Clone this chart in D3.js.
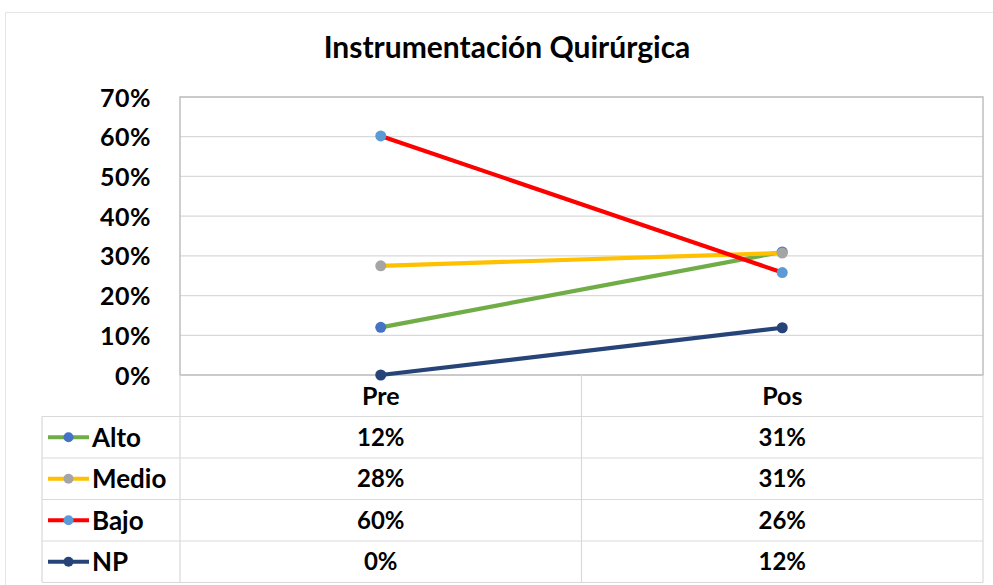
<!DOCTYPE html>
<html>
<head>
<meta charset="utf-8">
<script src="https://cdnjs.cloudflare.com/ajax/libs/d3/7.8.5/d3.min.js"></script>
<style>
  body { margin: 0; background: #fff; }
  svg text { font-family: Lato, "Open Sans", sans-serif; font-weight: bold; fill: #000; }
</style>
</head>
<body>
<svg id="chart" width="993" height="585"></svg>
<script>
// data
var categories = ["Pre", "Pos"];
var seriesNames = ["Alto", "Medio", "Bajo", "NP"];
var alto = [0.12, 0.31];
var medio = [0.275, 0.307];
var bajo = [0.602, 0.258];
var np = [0.0, 0.119];
var altoLabels = ["12%", "31%"];
var medioLabels = ["28%", "31%"];
var bajoLabels = ["60%", "26%"];
var npLabels = ["0%", "12%"];
var yTicks = [0, 0.1, 0.2, 0.3, 0.4, 0.5, 0.6, 0.7];

var lineColors = ["#70ad47", "#ffc000", "#ff0000", "#264478"];
var markerColors = ["#4472c4", "#a5a5a5", "#5b9bd5", "#264478"];

var series = [alto, medio, bajo, np];
var labels = [altoLabels, medioLabels, bajoLabels, npLabels];

// layout
const PLOT_L = 180, PLOT_R = 983, PLOT_T = 97, PLOT_B = 375;
const TABLE_L = 42, ROW_H = 41.5;

var svg = d3.select("#chart");

// outer frame
svg.append("rect")
  .attr("x", 5.5).attr("y", 12.5)
  .attr("width", 1000).attr("height", 600)
  .attr("fill", "none").attr("stroke", "#e6e6e6");

var x = d3.scaleBand().domain(categories).range([PLOT_L, PLOT_R]);
var y = d3.scaleLinear().domain([0, 0.7]).range([PLOT_B, PLOT_T]);

// title
svg.append("text")
  .attr("x", 507).attr("y", 58)
  .attr("text-anchor", "middle")
  .style("font-size", "30px")
  .text("Instrumentación Quirúrgica");

// grid
svg.append("g")
  .selectAll("line")
  .data(yTicks)
  .enter()
  .append("line")
  .attr("x1", PLOT_L).attr("x2", PLOT_R)
  .attr("y1", function(d){ return y(d); })
  .attr("y2", function(d){ return y(d); })
  .attr("stroke", "#d9d9d9").attr("stroke-width", 1.2);

// plot border
svg.append("rect")
  .attr("x", PLOT_L).attr("y", PLOT_T)
  .attr("width", PLOT_R - PLOT_L).attr("height", PLOT_B - PLOT_T)
  .attr("fill", "none").attr("stroke", "#bfbfbf").attr("stroke-width", 1.5);

// y axis
var yAxis = svg.append("g")
  .attr("transform", "translate(" + (PLOT_L - 26) + ",0)")
  .call(d3.axisLeft(y).tickValues(yTicks).tickFormat(d3.format(".0%")).tickSize(0));
yAxis.select(".domain").remove();
yAxis.selectAll("text")
  .attr("dy", "0.36em")
  .style("font-size", "25px")
  .style("font-family", "Lato, sans-serif")
  .style("letter-spacing", "0.5px");

// lines
var line = d3.line()
  .x(function(d, i){ return x(categories[i]) + x.bandwidth() / 2; })
  .y(function(d){ return y(d); });

series.forEach(function(s, k){
  svg.append("path")
    .datum(s)
    .attr("d", line)
    .attr("fill", "none")
    .attr("stroke", lineColors[k])
    .attr("stroke-width", 4.2)
    .attr("stroke-linecap", "round");
});
series.forEach(function(s, k){
  svg.append("g")
    .selectAll("circle")
    .data(s)
    .enter()
    .append("circle")
    .attr("cx", function(d, i){ return x(categories[i]) + x.bandwidth() / 2; })
    .attr("cy", function(d){ return y(d); })
    .attr("r", 5.5)
    .attr("fill", markerColors[k]);
});

// data table
var tbl = svg.append("g");
var gridC = "#d9d9d9";
// vertical lines
[PLOT_L, x("Pos"), PLOT_R].forEach(function(vx){
  tbl.append("line")
    .attr("x1", vx).attr("x2", vx)
    .attr("y1", PLOT_B).attr("y2", PLOT_B + ROW_H * 5)
    .attr("stroke", gridC).attr("stroke-width", 1.2);
});
tbl.append("line")
  .attr("x1", TABLE_L).attr("x2", TABLE_L)
  .attr("y1", PLOT_B + ROW_H).attr("y2", PLOT_B + ROW_H * 5)
  .attr("stroke", gridC).attr("stroke-width", 1.2);
// horizontal lines
d3.range(1, 6).forEach(function(r){
  tbl.append("line")
    .attr("x1", TABLE_L).attr("x2", PLOT_R)
    .attr("y1", PLOT_B + ROW_H * r).attr("y2", PLOT_B + ROW_H * r)
    .attr("stroke", gridC).attr("stroke-width", 1.2);
});

// category header
tbl.selectAll(".cat")
  .data(categories)
  .enter()
  .append("text")
  .attr("class", "cat")
  .attr("x", function(d){ return x(d) + x.bandwidth() / 2; })
  .attr("y", PLOT_B + ROW_H / 2)
  .attr("dy", "0.36em")
  .attr("text-anchor", "middle")
  .style("font-size", "25px")
  .text(function(d){ return d; });

// rows
seriesNames.forEach(function(name, k){
  var cy = PLOT_B + ROW_H * (k + 1.5);
  tbl.append("line")
    .attr("x1", 48).attr("x2", 89)
    .attr("y1", cy).attr("y2", cy)
    .attr("stroke", lineColors[k]).attr("stroke-width", 4);
  tbl.append("circle")
    .attr("cx", 68.5).attr("cy", cy).attr("r", 5)
    .attr("fill", markerColors[k]);
  tbl.append("text")
    .attr("x", 92).attr("y", cy).attr("dy", "0.36em")
    .style("font-size", "26px")
    .text(name);
  tbl.selectAll(".v" + k)
    .data(labels[k])
    .enter()
    .append("text")
    .attr("x", function(d, i){ return x(categories[i]) + x.bandwidth() / 2; })
    .attr("y", cy).attr("dy", "0.36em")
    .attr("text-anchor", "middle")
    .style("font-size", "24px")
    .text(function(d){ return d; });
});
</script>
</body>
</html>
